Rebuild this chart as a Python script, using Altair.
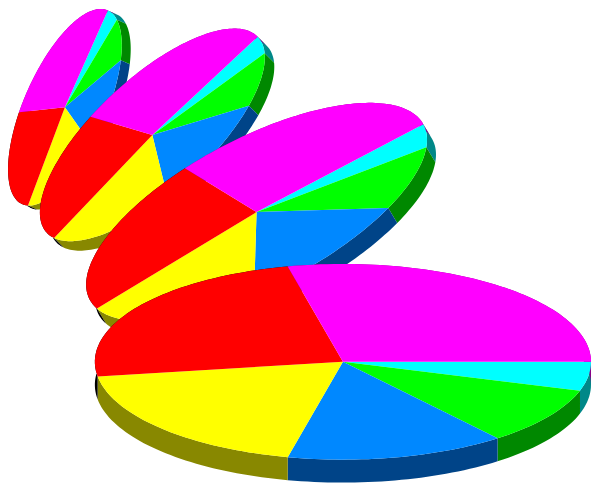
import numpy as np
import pandas as pd
import altair as alt

# slice values, clockwise on screen from the first boundary
slice_values = [5, 10, 15, 20, 25, 30]
top_colors = ["#00ffff", "#00ff00", "#0088ff", "#ffff00", "#ff0000", "#ff00ff"]
side_colors = ["#008888", "#008800", "#004488", "#888800", "#000000", "#880088"]

# the four discs, back to front
pie_centres = [(64, 106), (151.6, 133.7), (256, 211), (342.5, 361)]
pie_axis_u = [(43, -97), (105.5, -98.3), (167, -88), (248.5, 0)]
pie_axis_v = [(37.3, 17), (39.5, 41), (35.5, 65), (0, 98)]
pie_depths = [(9, 4), (9.5, 9.5), (9, 15), (0, 23)]

rows = []
piece = 0


def add_piece(points, colour):
    global piece
    for i, (px, py) in enumerate(points):
        rows.append({"piece": piece, "seq": i, "x": px, "y": py, "colour": colour})
    piece += 1


edges = np.cumsum([0] + slice_values) / sum(slice_values) * 2 * np.pi
for c, u, v, d in zip(pie_centres, pie_axis_u, pie_axis_v, pie_depths):
    c, u, v, d = map(np.array, (c, u, v, d))

    def rim(t0, t1):
        n = max(2, int((t1 - t0) / np.radians(1.5)))
        ts = np.linspace(t0, t1, n)
        return [c + np.cos(t) * u + np.sin(t) * v for t in ts]

    for k in range(len(slice_values)):
        arc = rim(edges[k], edges[k + 1])
        add_piece(arc + [p + d for p in reversed(arc)] + [arc[0]], side_colors[k])
    for k in range(len(slice_values)):
        arc = rim(edges[k], edges[k + 1])
        add_piece([c] + arc + [c], top_colors[k])

df = pd.DataFrame(rows)

chart = (
    alt.Chart(df)
    .mark_line(filled=True, strokeWidth=0, interpolate="linear", clip=False)
    .encode(
        x=alt.X("x:Q", scale=alt.Scale(domain=[8, 592], nice=False, zero=False), axis=None),
        y=alt.Y("y:Q", scale=alt.Scale(domain=[484, 8], nice=False, zero=False), axis=None),
        detail="piece:N",
        order=alt.Order("seq:Q"),
        color=alt.Color("colour:N", scale=None, legend=None),
    )
    .properties(width=584, height=476, padding=0, background="white")
    .configure_view(stroke=None)
)

chart.save("out.html", embed_options={"renderer": "svg", "actions": False})
